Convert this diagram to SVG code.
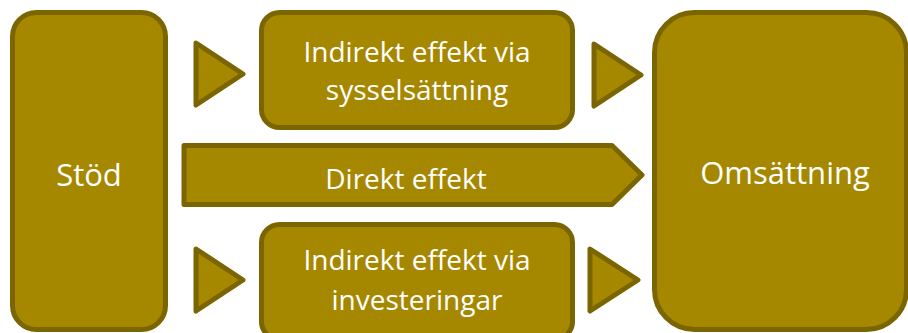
<svg xmlns="http://www.w3.org/2000/svg" width="908" height="333" viewBox="0 0 908 333">
  <style>
    .shape { fill: #A58800; stroke: #7B6500; stroke-width: 5; stroke-linejoin: round; }
    .label { fill: #FFFFFF; font-family: "Open Sans", "Noto Sans", "DejaVu Sans", sans-serif; text-anchor: middle; }
    .big { font-size: 31px; }
    .mid { font-size: 28px; }
  </style>
  <rect width="908" height="333" fill="#FFFFFF"/>

  <g id="connectors">
    <polygon class="shape" points="196,43 243,74 196,105"/>
    <polygon class="shape" points="196,249 243,280 196,311"/>
    <polygon class="shape" points="594,44 641,75 594,106"/>
    <polygon class="shape" points="590,249 638,280 590,311"/>
  </g>

  <g id="stod">
    <rect class="shape" x="12.5" y="12.5" width="153" height="317" rx="24" ry="24"/>
    <text class="label big" x="89" y="186">Stöd</text>
  </g>

  <g id="indirekt-sysselsattning">
    <rect class="shape" x="261.5" y="12.5" width="311" height="115" rx="18" ry="18"/>
    <text class="label mid" x="417" y="62">Indirekt effekt via</text>
    <text class="label mid" x="417" y="100">sysselsättning</text>
  </g>

  <g id="direkt-effekt">
    <polygon class="shape" points="184,145.5 612,145.5 642,175 612,204.5 184,204.5"/>
    <text class="label mid" x="406" y="189">Direkt effekt</text>
  </g>

  <g id="indirekt-investeringar">
    <rect class="shape" x="261.5" y="224.5" width="311" height="115" rx="18" ry="18"/>
    <text class="label mid" x="417" y="270">Indirekt effekt via</text>
    <text class="label mid" x="417" y="310">investeringar</text>
  </g>

  <g id="omsattning">
    <rect class="shape" x="654.5" y="12.5" width="252" height="317" rx="40" ry="40"/>
    <text class="label big" x="785" y="184">Omsättning</text>
  </g>
</svg>
